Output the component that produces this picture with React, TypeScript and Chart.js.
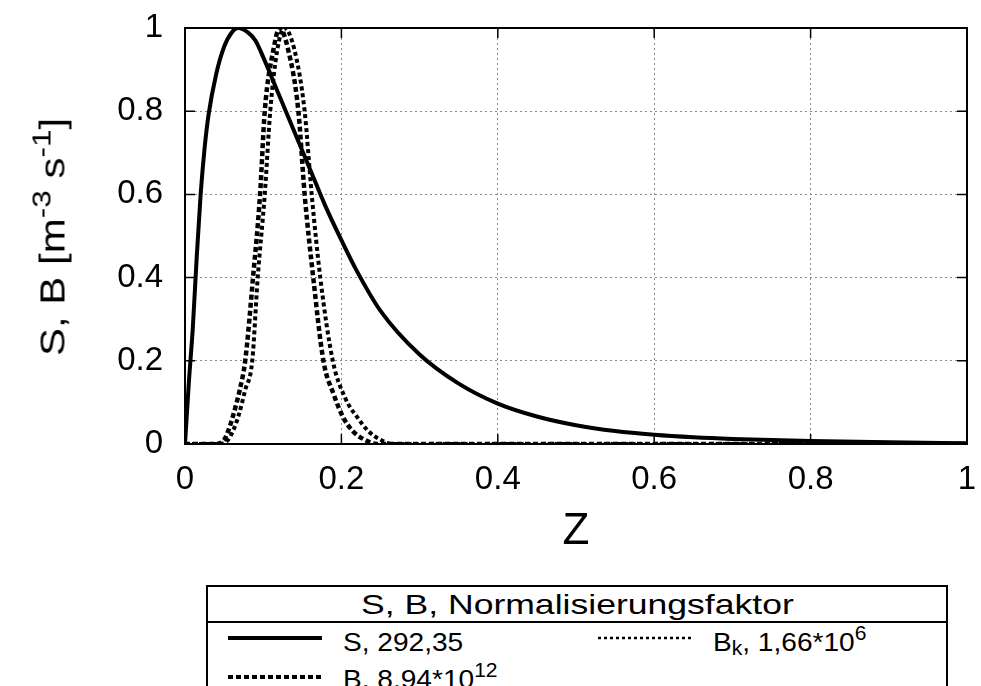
import React, { useEffect, useRef } from "react";
import { Chart, registerables } from "chart.js";

Chart.register(...registerables);

// ---- data ----
const zS = [0, 0.005, 0.01, 0.015, 0.02, 0.025, 0.03, 0.04, 0.05, 0.06, 0.068, 0.08, 0.09, 0.1, 0.12, 0.14, 0.16, 0.18, 0.2, 0.22, 0.25, 0.3, 0.35, 0.4, 0.45, 0.5, 0.55, 0.6, 0.65, 0.7, 0.8, 0.9, 1.0];
const sValues = [0, 0.15, 0.28, 0.45, 0.6, 0.71, 0.79, 0.89, 0.955, 0.99, 1.0, 0.99, 0.97, 0.93, 0.84, 0.75, 0.66, 0.57, 0.49, 0.415, 0.32, 0.215, 0.145, 0.097, 0.066, 0.045, 0.031, 0.022, 0.016, 0.012, 0.007, 0.004, 0.002];

const zB = [0, 0.04, 0.05, 0.055, 0.061, 0.07, 0.077, 0.087, 0.096, 0.102, 0.113, 0.121, 0.132, 0.145, 0.153, 0.164, 0.177, 0.19, 0.202, 0.215, 0.23, 0.245, 1.0];
const bValues = [0, 0, 0.01, 0.03, 0.065, 0.13, 0.2, 0.4, 0.6, 0.8, 0.947, 1.0, 0.947, 0.8, 0.6, 0.4, 0.2, 0.12, 0.065, 0.03, 0.01, 0, 0];

const zBk = [0, 0.045, 0.055, 0.061, 0.068, 0.077, 0.086, 0.093, 0.102, 0.109, 0.118, 0.127, 0.14, 0.153, 0.162, 0.173, 0.189, 0.205, 0.22, 0.235, 0.25, 0.265, 1.0];
const bkValues = [0, 0, 0.01, 0.03, 0.065, 0.13, 0.2, 0.4, 0.6, 0.8, 0.947, 1.0, 0.947, 0.8, 0.6, 0.4, 0.2, 0.11, 0.065, 0.03, 0.01, 0, 0];

const tickValues = [0, 0.2, 0.4, 0.6, 0.8, 1];
const tickLabels = ["0", "0.2", "0.4", "0.6", "0.8", "1"];

const FONT = "'Liberation Sans', Arial, Helvetica, sans-serif";

const toPoints = (xs: number[], ys: number[]) => xs.map((x, i) => ({ x, y: ys[i] }));

const framePlugin = {
  id: "frame",
  beforeDatasetsDraw(chart: any) {
    const { ctx, chartArea, scales } = chart;
    const { left, right, top, bottom } = chartArea;
    ctx.save();
    ctx.setLineDash([]);
    ctx.strokeStyle = "#000";
    ctx.lineWidth = 1.5;
    ctx.beginPath();
    for (const v of tickValues) {
      const px = scales.x.getPixelForValue(v);
      ctx.moveTo(px, bottom);
      ctx.lineTo(px, bottom - 10);
      ctx.moveTo(px, top);
      ctx.lineTo(px, top + 10);
      const py = scales.y.getPixelForValue(v);
      ctx.moveTo(left, py);
      ctx.lineTo(left + 10, py);
      ctx.moveTo(right, py);
      ctx.lineTo(right - 10, py);
    }
    ctx.stroke();
    ctx.lineWidth = 2;
    ctx.strokeRect(left, top, right - left, bottom - top);
    ctx.restore();
  },
};

const setTicks = (scale: any) => {
  scale.ticks = tickValues.map((v) => ({ value: v }));
};

function App() {
  const canvasRef = useRef<HTMLCanvasElement | null>(null);

  useEffect(() => {
    if (!canvasRef.current) return;
    const chart = new Chart(canvasRef.current, {
      type: "line",
      data: {
        datasets: [
          {
            label: "S, 292,35",
            data: toPoints(zS, sValues),
            borderColor: "#000",
            borderWidth: 4,
            pointRadius: 0,
            cubicInterpolationMode: "monotone",
            fill: false,
          },
          {
            label: "B. 8.94*10^12",
            data: toPoints(zB, bValues),
            borderColor: "#000",
            borderWidth: 4.5,
            borderDash: [5, 3],
            pointRadius: 0,
            cubicInterpolationMode: "monotone",
            fill: false,
          },
          {
            label: "Bk, 1,66*10^6",
            data: toPoints(zBk, bkValues),
            borderColor: "#000",
            borderWidth: 4,
            borderDash: [4, 3],
            pointRadius: 0,
            cubicInterpolationMode: "monotone",
            fill: false,
          },
        ],
      },
      options: {
        animation: false,
        responsive: false,
        maintainAspectRatio: false,
        layout: { padding: { top: 28, right: 14, bottom: 0, left: 0 } },
        plugins: { legend: { display: false }, tooltip: { enabled: false } },
        scales: {
          x: {
            type: "linear",
            min: 0,
            max: 1,
            afterBuildTicks: setTicks,
            afterFit: (s: any) => {
              s.height = 116;
            },
            ticks: {
              color: "#000",
              font: { family: FONT, size: 33 },
              padding: 0,
              maxRotation: 0,
              callback: (_v: any, i: number) => tickLabels[i],
            },
            grid: { color: "#888", lineWidth: 1, drawTicks: true, tickLength: 16, tickColor: "rgba(0,0,0,0)" },
            border: { display: false, dash: [2, 3] },
            title: {
              display: true,
              text: "Z",
              color: "#000",
              font: { family: FONT, size: 44 },
              padding: { top: 0, bottom: 2 },
            },
          },
          y: {
            type: "linear",
            min: 0,
            max: 1,
            afterBuildTicks: setTicks,
            afterFit: (s: any) => {
              s.width = 185;
            },
            ticks: {
              color: "#000",
              font: { family: FONT, size: 33 },
              padding: 0,
              callback: (_v: any, i: number) => tickLabels[i],
            },
            grid: { color: "#888", lineWidth: 1, drawTicks: true, tickLength: 22, tickColor: "rgba(0,0,0,0)" },
            border: { display: false, dash: [2, 3] },
          },
        },
      },
      plugins: [framePlugin],
    });
    return () => chart.destroy();
  }, []);

  const sup = { fontSize: "0.75em", verticalAlign: "0.55em", lineHeight: 0 } as React.CSSProperties;
  const sub = { fontSize: "0.75em", verticalAlign: "-0.2em", lineHeight: 0 } as React.CSSProperties;
  const entryText: React.CSSProperties = {
    position: "absolute",
    fontSize: 26,
    lineHeight: "26px",
    whiteSpace: "nowrap",
    transform: "scaleX(1.08)",
    transformOrigin: "left center",
  };

  return (
    <div
      style={{
        position: "absolute",
        left: 0,
        top: 0,
        width: 981,
        height: 686,
        overflow: "hidden",
        background: "#fff",
        fontFamily: FONT,
        color: "#000",
      }}
    >
      <div style={{ position: "absolute", left: 0, top: 0, width: 981, height: 560 }}>
        <canvas ref={canvasRef} width={981} height={560} />
      </div>

      <div
        style={{
          position: "absolute",
          left: 52,
          top: 237,
          fontSize: 35,
          lineHeight: 1,
          whiteSpace: "nowrap",
          transform: "translate(-50%, -50%) rotate(-90deg) scaleX(1.2)",
        }}
      >
        S, B [m<span style={sup}>-3</span> s<span style={sup}>-1</span>]
      </div>

      <div
        style={{
          position: "absolute",
          left: 206,
          top: 585,
          width: 742,
          height: 140,
          boxSizing: "border-box",
          border: "2px solid #000",
        }}
      >
        <div
          style={{
            height: 34,
            borderBottom: "2px solid #000",
            textAlign: "center",
            fontSize: 28,
            lineHeight: "36px",
            whiteSpace: "nowrap",
          }}
        >
          <span style={{ display: "inline-block", transform: "scaleX(1.27)" }}>S, B, Normalisierungsfaktor</span>
        </div>

        <svg style={{ position: "absolute", left: 20, top: 46 }} width={94} height={10}>
          <line x1={0} y1={5} x2={94} y2={5} stroke="#000" strokeWidth={4} />
        </svg>
        <div style={{ ...entryText, left: 135, top: 42 }}>S, 292,35</div>

        <svg style={{ position: "absolute", left: 20, top: 85 }} width={94} height={10}>
          <line x1={0} y1={5} x2={94} y2={5} stroke="#000" strokeWidth={4} strokeDasharray="5 3" />
        </svg>
        <div style={{ ...entryText, left: 135, top: 79 }}>
          B. 8.94*10<span style={sup}>12</span>
        </div>

        <svg style={{ position: "absolute", left: 390, top: 46 }} width={94} height={10}>
          <line x1={0} y1={5} x2={94} y2={5} stroke="#000" strokeWidth={2.5} strokeDasharray="3 3" />
        </svg>
        <div style={{ ...entryText, left: 505, top: 42 }}>
          B<span style={sub}>k</span>, 1,66*10<span style={sup}>6</span>
        </div>
      </div>
    </div>
  );
}

export default App;
